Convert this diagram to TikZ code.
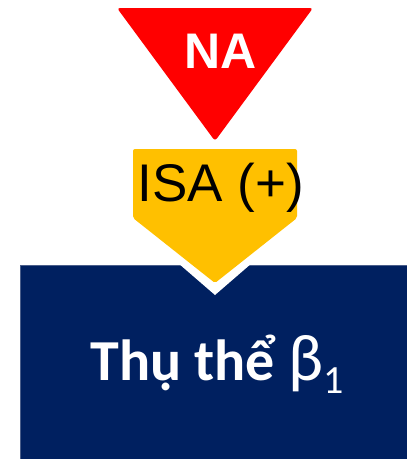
\documentclass[tikz,border=0pt]{standalone}
\usepackage{fontspec}
\setmainfont{Liberation Sans}
\newfontfamily\calibri{Carlito}
\definecolor{naRed}{HTML}{FF0000}
\definecolor{isaYellow}{HTML}{FFC000}
\definecolor{navy}{HTML}{002060}
\definecolor{navyEdge}{HTML}{4A5E8A}
\begin{document}
\begin{tikzpicture}[x=1pt,y=-1pt,
  lbl/.style={inner sep=0pt,anchor=base}]
\useasboundingbox (0,0) rectangle (407,459);
% blue box
\fill[navy] (20,265) rectangle (407,459);
\draw[navyEdge,line width=0.6pt] (20,459) -- (20,265) -- (407,265);
% red triangle
\fill[naRed,rounded corners=3pt] (117,8) -- (313,8) -- (215,141) -- cycle;
% white outline of yellow arrow
\fill[white] (178,263) -- (215,295) -- (252,263) -- cycle;
% yellow pentagon
\fill[isaYellow,rounded corners=2pt] (133,149) -- (297,149) -- (297,218) -- (215,283) -- (133,218) -- cycle;
% texts
\node[lbl,text=white] (na) at (221,68) {\fontsize{50}{60}\selectfont\bfseries NA};
\node[lbl,text=black] (isa) at (221,201) {\fontsize{53}{62}\selectfont ISA (+)};
\node[lbl,text=white] (thu) at (217,380) {\calibri\fontsize{58}{68}\selectfont\bfseries Thụ thể {\fontsize{66}{70}\selectfont\mdseries β}\raisebox{-0.23em}{\fontsize{40}{48}\selectfont\mdseries 1}};
\end{tikzpicture}
\end{document}
